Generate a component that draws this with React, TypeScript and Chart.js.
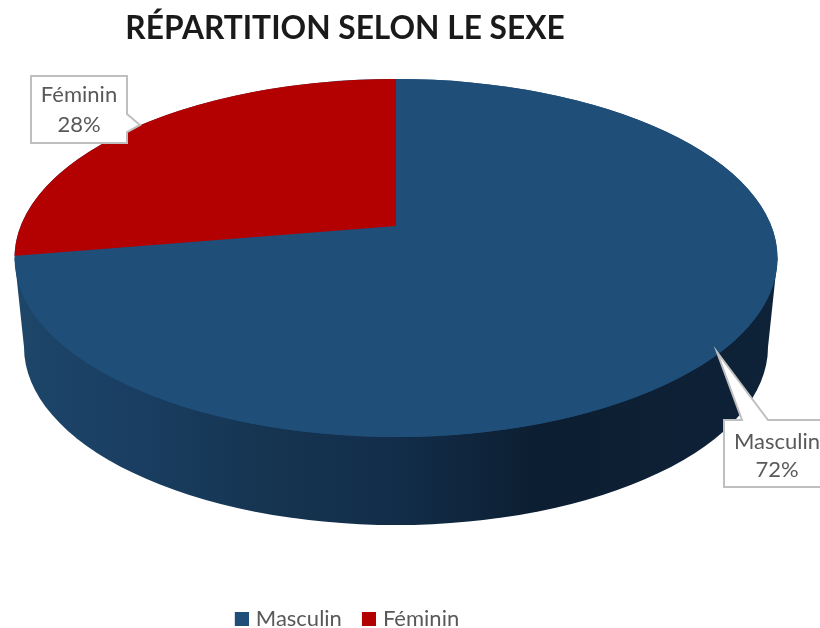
import React, { useEffect, useRef } from "react";
import { Chart, DoughnutController, registerables } from "chart.js";

Chart.register(...registerables);

const categories = ["Masculin", "Féminin"];
const shares = [72, 28];
const sliceColors = ["#1F4E79", "#B30000"];
const chartTitle = "RÉPARTITION SELON LE SEXE";

// Projection of the library's circular pie onto the tilted 3D disc
const TOP = { cx: 396, cy: 258, rx: 381.5, ry: 179 };
const BASE = { cx: 396, cy: 347, rx: 372, ry: 178 };
const APEX = { x: 396, y: 226 };
const SEAM = { x: 14, y: 256 };

const wallStops: [number, string][] = [
  [0, "#1D4669"],
  [0.14, "#1A3F63"],
  [0.34, "#153450"],
  [0.5, "#122D49"],
  [0.69, "#0C1E31"],
  [1, "#0E2238"],
];

const calloutFont = '22px Lato, "Open Sans", sans-serif';
const calloutText = "#595959";
const calloutBorder = "#BFBFBF";

const callouts = [
  {
    index: 1,
    box: [31, 76, 127, 143],
    pointer: [[127, 114], [140, 125], [127, 132]],
    textX: 79,
    lineY: [95, 125],
  },
  {
    index: 0,
    box: [724, 420, 824, 487],
    pointer: [[742, 420], [717, 352], [768, 420]],
    textX: 777,
    lineY: [442, 470],
  },
];

// Legend swatch: sits closer to its text than the default box does
function makeSwatch(color: string) {
  const c = document.createElement("canvas");
  c.width = 22;
  c.height = 14;
  const g = c.getContext("2d")!;
  g.fillStyle = color;
  g.fillRect(8, 0, 14, 14);
  return c;
}

const pie3d = {
  id: "pie3d",
  beforeDatasetsDraw(chart: any) {
    const ctx = chart.ctx;
    const grad = ctx.createLinearGradient(TOP.cx - TOP.rx, 0, TOP.cx + TOP.rx, 0);
    wallStops.forEach(([o, c]) => grad.addColorStop(o, c));
    ctx.save();
    ctx.fillStyle = grad;
    ctx.beginPath();
    ctx.ellipse(BASE.cx, BASE.cy, BASE.rx, BASE.ry, 0, 0, Math.PI * 2);
    ctx.fill();
    ctx.beginPath();
    ctx.moveTo(TOP.cx - TOP.rx, TOP.cy);
    ctx.lineTo(TOP.cx + TOP.rx, TOP.cy);
    ctx.lineTo(BASE.cx + BASE.rx, BASE.cy);
    ctx.lineTo(BASE.cx - BASE.rx, BASE.cy);
    ctx.closePath();
    ctx.fill();
    // the disc itself, seen below the perspective apex
    ctx.fillStyle = sliceColors[0];
    ctx.beginPath();
    ctx.ellipse(TOP.cx, TOP.cy, TOP.rx, TOP.ry, 0, 0, Math.PI * 2);
    ctx.fill();
    ctx.restore();
  },
  beforeDatasetDraw(chart: any, args: any) {
    const meta = chart.getDatasetMeta(args.index);
    meta.data.forEach((el: any, i: number) => {
      if (el.__wrapped) return;
      el.__wrapped = true;
      const draw = el.draw;
      el.draw = function (ctx: CanvasRenderingContext2D, area: any) {
        ctx.save();
        if (i === 1) {
          const slope = (SEAM.y - APEX.y) / (SEAM.x - APEX.x);
          ctx.beginPath();
          ctx.moveTo(APEX.x, 0);
          ctx.lineTo(APEX.x, APEX.y);
          ctx.lineTo(0, APEX.y + slope * (0 - APEX.x));
          ctx.lineTo(0, 0);
          ctx.closePath();
          ctx.clip();
        }
        const r = el.outerRadius;
        ctx.translate(TOP.cx, TOP.cy);
        ctx.scale(TOP.rx / r, TOP.ry / r);
        ctx.translate(-el.x, -el.y);
        draw.call(el, ctx, area);
        ctx.restore();
      };
    });
  },
  afterDatasetsDraw(chart: any) {
    const ctx = chart.ctx;
    ctx.save();
    callouts.forEach((c) => {
      const [x0, y0, x1, y1] = c.box;
      ctx.beginPath();
      if (c.index === 1) {
        ctx.moveTo(x0, y0);
        ctx.lineTo(x1, y0);
        c.pointer.forEach(([x, y]) => ctx.lineTo(x, y));
        ctx.lineTo(x1, y1);
        ctx.lineTo(x0, y1);
      } else {
        ctx.moveTo(x0, y0);
        c.pointer.forEach(([x, y]) => ctx.lineTo(x, y));
        ctx.lineTo(x1, y0);
        ctx.lineTo(x1, y1);
        ctx.lineTo(x0, y1);
      }
      ctx.closePath();
      ctx.fillStyle = "#FFFFFF";
      ctx.fill();
      ctx.strokeStyle = calloutBorder;
      ctx.lineWidth = 2;
      ctx.stroke();
      ctx.fillStyle = calloutText;
      ctx.font = calloutFont;
      ctx.textAlign = "center";
      ctx.textBaseline = "middle";
      ctx.fillText(categories[c.index], c.textX, c.lineY[0]);
      ctx.fillText(`${shares[c.index]}%`, c.textX, c.lineY[1]);
    });
    ctx.restore();
  },
};

export default function App() {
  const ref = useRef<HTMLCanvasElement>(null);
  useEffect(() => {
    const swatches = sliceColors.map(makeSwatch);
    const baseLabels = (DoughnutController as any).overrides.plugins.legend.labels.generateLabels;
    const chart = new Chart(ref.current!, {
      type: "pie",
      data: {
        labels: categories,
        datasets: [
          { data: shares, backgroundColor: sliceColors, borderWidth: 0, clip: false } as any,
        ],
      },
      options: {
        animation: false,
        responsive: false,
        layout: { padding: { left: 0, right: 130, top: 0, bottom: -12 } },
        plugins: {
          tooltip: { enabled: false },
          title: {
            display: true,
            text: chartTitle,
            color: "#1A1A1A",
            font: { family: 'Lato, "Open Sans", sans-serif', size: 31.7, weight: "bold" },
            padding: { top: 10, bottom: 10 },
          },
          legend: {
            position: "bottom",
            labels: {
              usePointStyle: true,
              boxWidth: 14,
              boxHeight: 14,
              padding: 16,
              color: calloutText,
              font: { family: 'Lato, "Open Sans", sans-serif', size: 22 },
              generateLabels: (c: any) =>
                baseLabels(c).map((item: any, i: number) => ({ ...item, pointStyle: swatches[i] })),
            },
          },
        },
      },
      plugins: [pie3d],
    } as any);
    return () => chart.destroy();
  }, []);
  return (
    <div style={{ position: "fixed", left: 0, top: 0, width: 820, height: 628, background: "#fff" }}>
      <canvas ref={ref} width={820} height={628} style={{ display: "block", width: 820, height: 628 }} />
    </div>
  );
}
